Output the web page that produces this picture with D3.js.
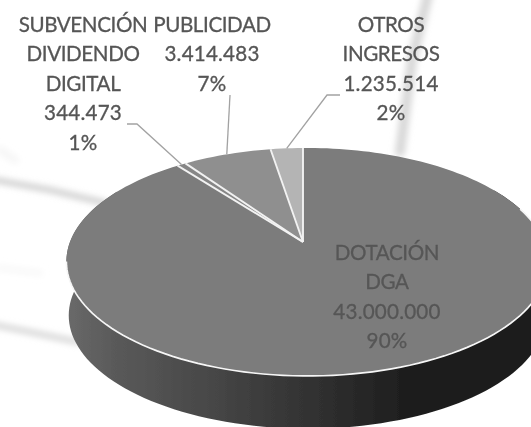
<!DOCTYPE html>
<html><head><meta charset="utf-8">
<script src="https://cdn.jsdelivr.net/npm/d3@7"></script>
<style>html,body{margin:0;padding:0;background:#fff}svg{display:block}text{font-family:Lato,"Open Sans",sans-serif}</style>
</head><body><svg id="c" width="531" height="427"></svg>
<script>
const categories = ["OTROS INGRESOS","PUBLICIDAD","SUBVENCIÓN DIVIDENDO DIGITAL","DOTACIÓN DGA"];
const values = [1235514,3414483,344473,43000000];
const sliceColors = ["#b4b4b4","#8f8f8f","#868686","#7b7b7b"];
const labelLines = [
  ["OTROS","INGRESOS","1.235.514","2%"],
  ["PUBLICIDAD","3.414.483","7%"],
  ["SUBVENCIÓN","DIVIDENDO","DIGITAL","344.473","1%"],
  ["DOTACIÓN","DGA","43.000.000","90%"]
];
const W=531,H=427;
const svg=d3.select("#c");
const defs=svg.append("defs");
const blur=(id,s)=>defs.append("filter").attr("id",id).attr("x","-30%").attr("y","-30%").attr("width","160%").attr("height","160%")
  .append("feGaussianBlur").attr("stdDeviation",s);
blur("b3",3.2);blur("b1",0.45);
const grad=defs.append("linearGradient").attr("id","side").attr("gradientUnits","userSpaceOnUse")
  .attr("x1",66).attr("x2",531).attr("y1",0).attr("y2",0);
[[0,"#6a6a6a"],[0.1,"#5a5a5a"],[0.3,"#484848"],[0.5,"#343434"],[0.72,"#1f1f1f"],[1,"#1c1c1c"]]
  .forEach(([o,c])=>grad.append("stop").attr("offset",o).attr("stop-color",c));

// faint background streaks
const bg=svg.append("g").attr("filter","url(#b3)").attr("fill","none").attr("stroke-linecap","round");
const streak=d3.line();
[[[[428,-5],[412,60],[400,152]],"#d8d8d8",10],
 [[[-5,180],[50,190],[105,203]],"#d0d0d0",6],
 [[[-5,325],[30,332],[78,342]],"#d8d8d8",6],
 [[[0,150],[15,160]],"#f6f6f6",8],
 [[[0,268],[40,273]],"#f8f8f8",6]]
 .forEach(([p,c,w])=>bg.append("path").attr("d",streak(p)).attr("stroke",c).attr("stroke-width",w));

// perspective projection of the unit pie disc
const ax=303,ay=242,pa=237,pb=110.5,pk=0.175,pm=-0.017;
const proj=(t,r=1,dy=0,s=1)=>{
  const X=r*Math.sin(t),Y=r*Math.cos(t),w=1+pk*Y+pm*X;
  return [ax+s*pa*X/w, ay+dy-s*pb*Y/w];
};
const g=svg.append("g").attr("filter","url(#b1)");
const line=d3.line();
const depth=54, shrink=0.99;

// extruded side
const band=d3.range(60,301,2).map(a=>a*Math.PI/180);
g.append("path").attr("d",line([...band.map(t=>proj(t)),...band.slice().reverse().map(t=>proj(t,1,depth,shrink))])+"Z").attr("fill","url(#side)");

// slices: the series runs anticlockwise from twelve o'clock
const pie=d3.pie().sort(null).value(d=>d)(values);
g.selectAll("path.slice").data(pie).join("path").attr("class","slice")
 .attr("fill",(d,i)=>sliceColors[i])
 .attr("d",d=>{
   const a0=-d.startAngle,a1=-d.endAngle,n=Math.max(2,Math.ceil(Math.abs(a1-a0)/0.03));
   const arc=d3.range(n+1).map(i=>proj(a0+(a1-a0)*i/n));
   return line([[ax,ay],...arc])+"Z";
 });
// slice separators and rim
g.selectAll("path.sep").data(pie).join("path").attr("class","sep")
 .attr("fill","none").attr("stroke","#f2f2f2").attr("stroke-width",1.9)
 .attr("d",d=>line([[ax,ay],proj(-d.startAngle)]));
g.append("path").attr("d",line(d3.range(72,262,2).map(a=>proj(a*Math.PI/180))))
 .attr("fill","none").attr("stroke","#f6f6f6").attr("stroke-width",1.7);

// leader lines
const lead=svg.append("g").attr("fill","none").attr("stroke","#a2a2a2").attr("stroke-width",1.3);
const mid=d=>proj(-(d.startAngle+d.endAngle)/2);
const leaderStarts=[[[340,95],[327,95]],[[230,95]],[[127,124],[137,124]]];
leaderStarts.forEach((pts,i)=>{
  lead.append("path").attr("d",line([...pts,mid(pie[i])]));
});

// labels
const labelAt=[[391,24.5],[212,24.5],[83,24.5],[387,252.5]];
const t=svg.append("g").attr("filter","url(#b1)").attr("font-size",20.6).attr("text-anchor","middle");
labelLines.forEach((ls,i)=>{
  t.selectAll(null).data(ls).join("text")
   .attr("x",labelAt[i][0]).attr("y",(d,j)=>labelAt[i][1]+j*29.5).attr("dy","0.36em")
   .attr("letter-spacing",d=>/^[0-9]/.test(d)?0.2:-0.4)
   .attr("fill",i===3?"#565656":"#555").attr("stroke",i===3?"#565656":"#555").attr("stroke-width",0.3).text(d=>d);
});
</script></body></html>
